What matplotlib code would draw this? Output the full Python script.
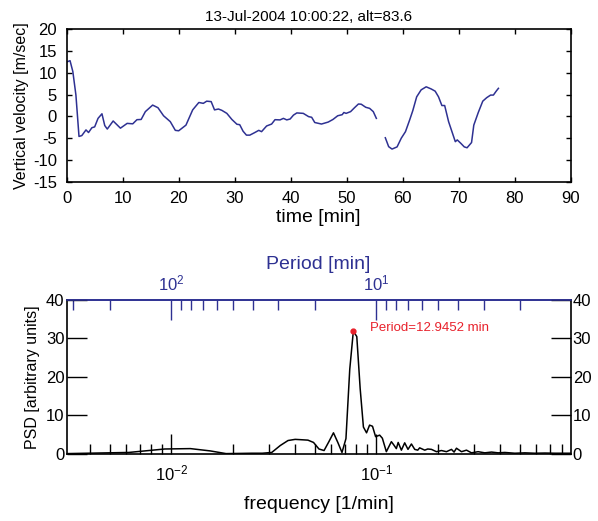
import numpy as np
import matplotlib
matplotlib.use("Agg")
import matplotlib.pyplot as plt
from matplotlib.ticker import LogLocator, FixedLocator, NullFormatter

plt.rcParams['font.family'] = ['Liberation Sans', 'DejaVu Sans']
plt.rcParams['mathtext.fontset'] = 'custom'
plt.rcParams['mathtext.rm'] = 'Liberation Sans'
plt.rcParams['mathtext.it'] = 'Liberation Sans:italic'
plt.rcParams['axes.unicode_minus'] = False

# vertical velocity time series (nan marks the data gap)
time_min = [0, 0.6, 1.1, 1.65, 2.2, 2.7, 3.45, 3.9, 4.5, 5.0, 5.6, 6.3, 6.8, 7.25,
            8.3, 9.6, 10.8, 11.8, 12.55, 13.3, 14.05, 15.35, 16.3, 17.3, 18.5,
            19.4, 20.0, 21.3, 22.5, 23.6, 24.4, 25.0, 25.8, 26.4, 27.1, 27.7,
            28.6, 29.5, 30.4, 30.9, 31.5, 32.1, 32.7, 33.6, 34.3, 34.8, 35.7,
            36.6, 37.2, 38.1, 38.7, 39.3, 39.9, 40.5, 41.1, 42.25, 43.2, 43.75,
            44.3, 45.5, 46.7, 47.55, 48.4, 49.2, 49.5, 49.9, 50.7, 51.4, 52.1,
            52.6, 53.4, 54.1, 54.75, 55.3, 56.1,
            56.9, 57.5, 58.1, 59.0, 59.75, 60.5, 61.25, 61.8, 62.5, 63.3, 64.2,
            65.1, 65.8, 66.4, 67.0, 67.5, 68.2, 68.8, 69.4, 69.75, 70.4, 71.0,
            71.5, 72.3, 72.7, 73.5, 74.3, 75.0, 75.7, 76.2, 76.7, 77.1]
velocity = [12.5, 12.8, 10.3, 4.9, -4.6, -4.4, -3.1, -3.7, -2.6, -2.4, -0.45, 0.6,
            -2.1, -2.9, -1.05, -2.7, -1.6, -1.7, -0.75, -0.7, 1.1, 2.6, 2.0, 0.15,
            -1.2, -3.2, -3.3, -2.0, 1.5, 3.2, 3.0, 3.5, 3.4, 1.5, 1.7, 1.4, 0.7,
            -0.7, -1.8, -1.9, -3.4, -4.3, -4.3, -3.7, -3.2, -3.5, -2.2, -1.75,
            -0.75, -0.8, -0.45, -0.8, -0.6, 0.3, 0.8, 0.7, -0.05, -0.2, -1.4,
            -1.75, -1.3, -0.7, 0.15, 0.4, 0.9, 0.7, 1.1, 2.0, 2.85, 2.8, 2.1,
            1.85, 1.1, -0.45, np.nan,
            -4.9, -6.95, -7.5, -7.0, -5.0, -3.5, -0.8, 1.3, 4.5, 6.1, 6.8, 6.3,
            5.8, 4.5, 2.5, 2.5, -1.2, -3.5, -5.8, -5.4, -6.2, -7.0, -7.2, -6.0,
            -2.0, 0.9, 3.5, 4.3, 4.9, 4.9, 5.8, 6.45]

# power spectral density
freq = [0.00309, 0.0062, 0.0093, 0.0124, 0.0155, 0.0185, 0.0216, 0.0247, 0.0278,
        0.0309, 0.034, 0.0371, 0.0402, 0.0433, 0.0464, 0.0494, 0.0525, 0.0556,
        0.0587, 0.0618, 0.0649, 0.068, 0.0711, 0.0742, 0.07725, 0.0803, 0.0834,
        0.0865, 0.0896, 0.0927, 0.0958, 0.0992, 0.1038, 0.107, 0.1119, 0.1184,
        0.1215, 0.1252, 0.1278, 0.1325, 0.1375, 0.1427, 0.1483, 0.1539, 0.1592,
        0.1627, 0.1722, 0.1781, 0.1857, 0.1964, 0.2077, 0.2198, 0.2325, 0.2394,
        0.2459, 0.2602, 0.2752, 0.2911, 0.3136, 0.3381, 0.3646, 0.3927, 0.4234,
        0.4737, 0.5302, 0.5934, 0.6641, 0.743, 0.8866]
psd = [0.1, 0.4, 1.3, 1.4, 0.8, 0.1, 0.15, 0.2, 0.2, 0.4, 2.2, 3.5, 3.8, 3.7,
       3.6, 3.0, 1.3, 0.9, 3.2, 5.5, 3.0, 0.4, 4.0, 22.0, 31.9, 30.5, 17.0, 7.0,
       5.5, 7.5, 7.2, 4.5, 4.9, 4.1, 0.6, 3.2, 2.4, 1.4, 3.0, 1.0, 2.9, 1.2, 2.6,
       1.2, 1.0, 1.6, 1.0, 1.3, 1.2, 0.6, 0.9, 0.6, 1.2, 0.5, 1.5, 0.6, 1.0, 0.3,
       0.6, 0.3, 0.5, 0.3, 0.4, 0.2, 0.3, 0.2, 0.25, 0.2, 0.2]
peak_freq = 0.07725
peak_psd = 31.9
peak_label = 'Period=12.9452 min'

# period axis ticks [min]
period_major = [10, 100]
period_minor = [2, 3, 4, 5, 6, 7, 8, 9, 20, 30, 40, 50, 60, 70, 80, 90, 200, 300]

blue = '#2e3192'
red = '#e8212b'

fig = plt.figure(figsize=(5.98, 5.21), dpi=100)

# --- top: time series
ax1 = fig.add_axes([0.1115, 0.6512, 0.8428, 0.2925])
ax1.plot(time_min, velocity, color=blue, lw=1.1)
ax1.set_xlim(0, 90)
ax1.set_ylim(-15, 20)
ax1.set_xticks(range(0, 91, 10))
ax1.set_yticks(range(-15, 21, 5))
ax1.tick_params(direction='in', top=True, right=True, length=3.6, width=1,
                labelsize=12, pad=7)
for s in ax1.spines.values():
    s.set_linewidth(1.2)
ax1.set_xlabel('time [min]', fontsize=14, labelpad=2)
ax1.set_ylabel('Vertical velocity [m/sec]', fontsize=11.5, labelpad=3)
fig.text(309 / 598, 1 - 17 / 521, '13-Jul-2004 10:00:22, alt=83.6',
         ha='center', va='center', fontsize=11)

# --- bottom: spectrum
ax2 = fig.add_axes([0.1115, 0.1286, 0.8428, 0.2956])
ax2.plot(freq, psd, color='black', lw=1.1)
ax2.plot([peak_freq], [peak_psd], 'o', color=red, ms=3.5)
ax2.text(0.0927, 32.6, peak_label, color=red, fontsize=9.5, va='center')
ax2.set_xscale('log')
ax2.set_xlim(0.00309, 0.8866)
ax2.set_ylim(0, 40)
ax2.set_yticks(range(0, 41, 10))
ax2.xaxis.set_minor_locator(LogLocator(subs=np.arange(2, 10)))
ax2.xaxis.set_minor_formatter(NullFormatter())
ax2.tick_params(axis='x', which='major', direction='in', length=14.4, width=1,
                top=False, labelsize=12, pad=7)
ax2.tick_params(axis='x', which='minor', direction='in', length=7.2, width=1,
                top=False)
ax2.tick_params(axis='y', direction='in', length=14.4, width=1, left=True,
                right=True, labelright=True, labelsize=12, pad=1.5)
for s in ax2.spines.values():
    s.set_linewidth(1.2)
ax2.spines['top'].set_color(blue)
ax2.set_xlabel('frequency [1/min]', fontsize=14, labelpad=9)
ax2.set_ylabel('PSD [arbitrary units]', fontsize=11.5, labelpad=4)


def inv(x):
    x = np.asarray(x, dtype=float)
    with np.errstate(divide='ignore'):
        return 1.0 / x


sec = ax2.secondary_xaxis('top', functions=(inv, inv))
sec.xaxis.set_major_locator(FixedLocator(period_major))
sec.xaxis.set_minor_locator(FixedLocator(period_minor))
sec.xaxis.set_minor_formatter(NullFormatter())
sec.tick_params(which='major', direction='in', length=14.4, width=1,
                colors=blue, labelsize=12, pad=5)
sec.tick_params(which='minor', direction='in', length=7.2, width=1,
                colors=blue)
sec.spines['top'].set_color(blue)
sec.spines['top'].set_linewidth(1.2)
sec.set_xlabel('Period [min]', color=blue, fontsize=14, labelpad=3)

fig.savefig('out.png', dpi=100)
